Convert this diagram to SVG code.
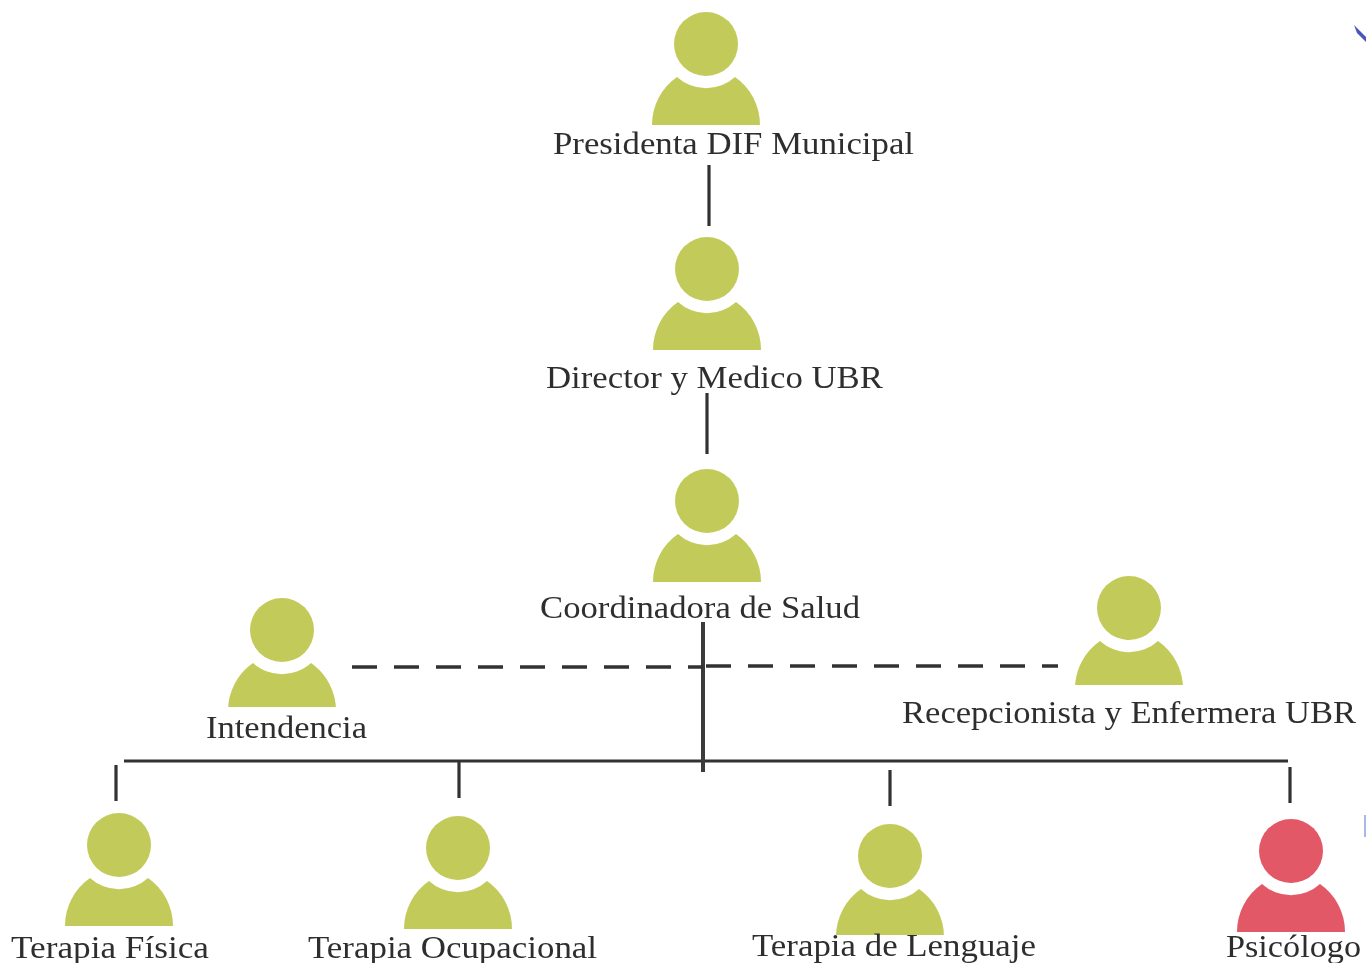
<svg xmlns="http://www.w3.org/2000/svg" width="1366" height="963" viewBox="0 0 1366 963">
<style>
.t{font-family:"Liberation Serif","Times New Roman",serif;font-size:31px;fill:#2e2e2e}
.l{fill:none;stroke:#333;stroke-width:3.2}
.c{fill:none;stroke:#3a3a3a;stroke-width:4}
.d{fill:none;stroke:#333;stroke-width:3.5;stroke-dasharray:25 17}
.g{fill:#c2cb5a}
.r{fill:#e25866}
</style>
<defs>
<filter id="s" x="-5%" y="-5%" width="110%" height="110%"><feGaussianBlur stdDeviation="0.6"/></filter>
<g id="p"><circle cx="0" cy="0" r="32"/><path d="M-54,81 A58,58 0 0 1 -29,33 A43,43 0 0 0 29,33 A58,58 0 0 1 54,81 Z"/></g>
</defs>
<rect width="1366" height="963" fill="#fff"/>
<g filter="url(#s)">
<g id="connectors">
<path class="l" d="M709,165V226M707,393V454M124,761H1288M116,765V801M459,762V798M890,770V806M1290,767V803"/>
<path class="c" d="M703,622V772"/>
<path class="d" d="M352,667H703"/>
<path class="d" d="M706,666H1058"/>
</g>
<g id="presidenta"><use href="#p" class="g" x="706" y="44"/><text class="t" x="553" y="154" textLength="361" lengthAdjust="spacingAndGlyphs">Presidenta DIF Municipal</text></g>
<g id="director"><use href="#p" class="g" x="707" y="269"/><text class="t" x="546" y="388" textLength="337" lengthAdjust="spacingAndGlyphs">Director y Medico UBR</text></g>
<g id="coordinadora"><use href="#p" class="g" x="707" y="501"/><text class="t" x="540" y="618" textLength="320" lengthAdjust="spacingAndGlyphs">Coordinadora de Salud</text></g>
<g id="intendencia"><use href="#p" class="g" x="282" y="630"/><rect x="220" y="707" width="124" height="10" fill="#fff"/><text class="t" x="206" y="738" textLength="161" lengthAdjust="spacingAndGlyphs">Intendencia</text></g>
<g id="recepcionista"><use href="#p" class="g" x="1129" y="608"/><rect x="1067" y="685" width="124" height="10" fill="#fff"/><text class="t" x="902" y="723" textLength="454" lengthAdjust="spacingAndGlyphs">Recepcionista y Enfermera UBR</text></g>
<g id="fisica"><use href="#p" class="g" x="119" y="845"/><text class="t" x="11" y="958" textLength="198" lengthAdjust="spacingAndGlyphs">Terapia Física</text></g>
<g id="ocupacional"><use href="#p" class="g" x="458" y="848"/><text class="t" x="308" y="958" textLength="289" lengthAdjust="spacingAndGlyphs">Terapia Ocupacional</text></g>
<g id="lenguaje"><use href="#p" class="g" x="890" y="856"/><rect x="830" y="935" width="120" height="4" fill="#fff"/><text class="t" x="752" y="956" textLength="284" lengthAdjust="spacingAndGlyphs">Terapia de Lenguaje</text></g>
<g id="psicologo"><use href="#p" class="r" x="1291" y="851"/><text class="t" x="1226" y="957" textLength="135" lengthAdjust="spacingAndGlyphs">Psicólogo</text></g>
<path d="M1354,25 L1366,37 L1366,42 L1357,33 Z" fill="#4a55b8"/>
<rect x="1364" y="815" width="2" height="22" fill="#a9b8e6"/>
</g>
</svg>
